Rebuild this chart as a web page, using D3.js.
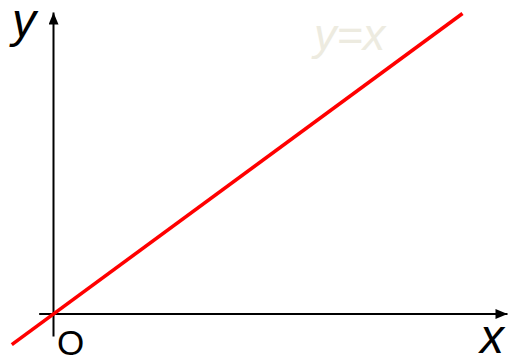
<!DOCTYPE html>
<meta charset="utf-8">
<html>
<head>
<style>
  body { margin: 0; background: #fff; }
  text { font-family: "Liberation Sans", Arial, sans-serif; }
</style>
</head>
<body>
<script src="https://d3js.org/d3.v7.min.js"></script>
<script>
  // the plotted function y = x, sampled at its two ends
  var lineX = [-0.102, 1.0];
  var lineY = [-0.102, 1.0];

  // axis extents in data units
  var xAxisRange = [-0.035, 1.11];
  var yAxisRange = [-0.075, 1.003];

  var labels = { x: "x", y: "y", origin: "O", curve: "y=x" };

  var width = 510, height = 358;

  var x = d3.scaleLinear().domain([0, 1]).range([53.5, 462.5]);
  var y = d3.scaleLinear().domain([0, 1]).range([314, 13.5]);

  var svg = d3.select("body").append("svg")
    .attr("width", width)
    .attr("height", height);

  // arrow head
  svg.append("defs").append("marker")
      .attr("id", "arrow")
      .attr("viewBox", "0 0 12 10")
      .attr("refX", 12)
      .attr("refY", 5)
      .attr("markerUnits", "userSpaceOnUse")
      .attr("markerWidth", 13)
      .attr("markerHeight", 10)
      .attr("orient", "auto")
    .append("path")
      .attr("d", "M0,0L12,5L0,10Z")
      .attr("fill", "#000");

  // axes
  svg.append("line")
      .attr("x1", x(xAxisRange[0])).attr("y1", y(0))
      .attr("x2", x(xAxisRange[1])).attr("y2", y(0))
      .attr("stroke", "#000")
      .attr("stroke-width", 2)
      .attr("marker-end", "url(#arrow)");

  svg.append("line")
      .attr("x1", x(0)).attr("y1", y(yAxisRange[0]))
      .attr("x2", x(0)).attr("y2", y(yAxisRange[1]))
      .attr("stroke", "#000")
      .attr("stroke-width", 2)
      .attr("marker-end", "url(#arrow)");

  // the line y = x
  var pts = lineX.map(function(d, i) { return [d, lineY[i]]; });
  svg.append("path")
      .datum(pts)
      .attr("fill", "none")
      .attr("stroke", "#ff0000")
      .attr("stroke-width", 3.6)
      .attr("d", d3.line()
        .x(function(d) { return x(d[0]); })
        .y(function(d) { return y(d[1]); }));

  // labels
  svg.append("text")
      .attr("x", 12).attr("y", 37)
      .attr("font-size", 48)
      .attr("font-style", "italic")
      .text(labels.y);

  svg.append("text")
      .attr("x", 480).attr("y", 353)
      .attr("font-size", 48)
      .attr("font-style", "italic")
      .text(labels.x);

  svg.append("text")
      .attr("x", 57).attr("y", 355)
      .attr("font-size", 35)
      .text(labels.origin);

  svg.append("text")
      .attr("x", 314).attr("y", 50)
      .attr("font-size", 45)
      .attr("font-style", "italic")
      .attr("fill", "#edebe0")
      .text(labels.curve);
</script>
</body>
</html>
